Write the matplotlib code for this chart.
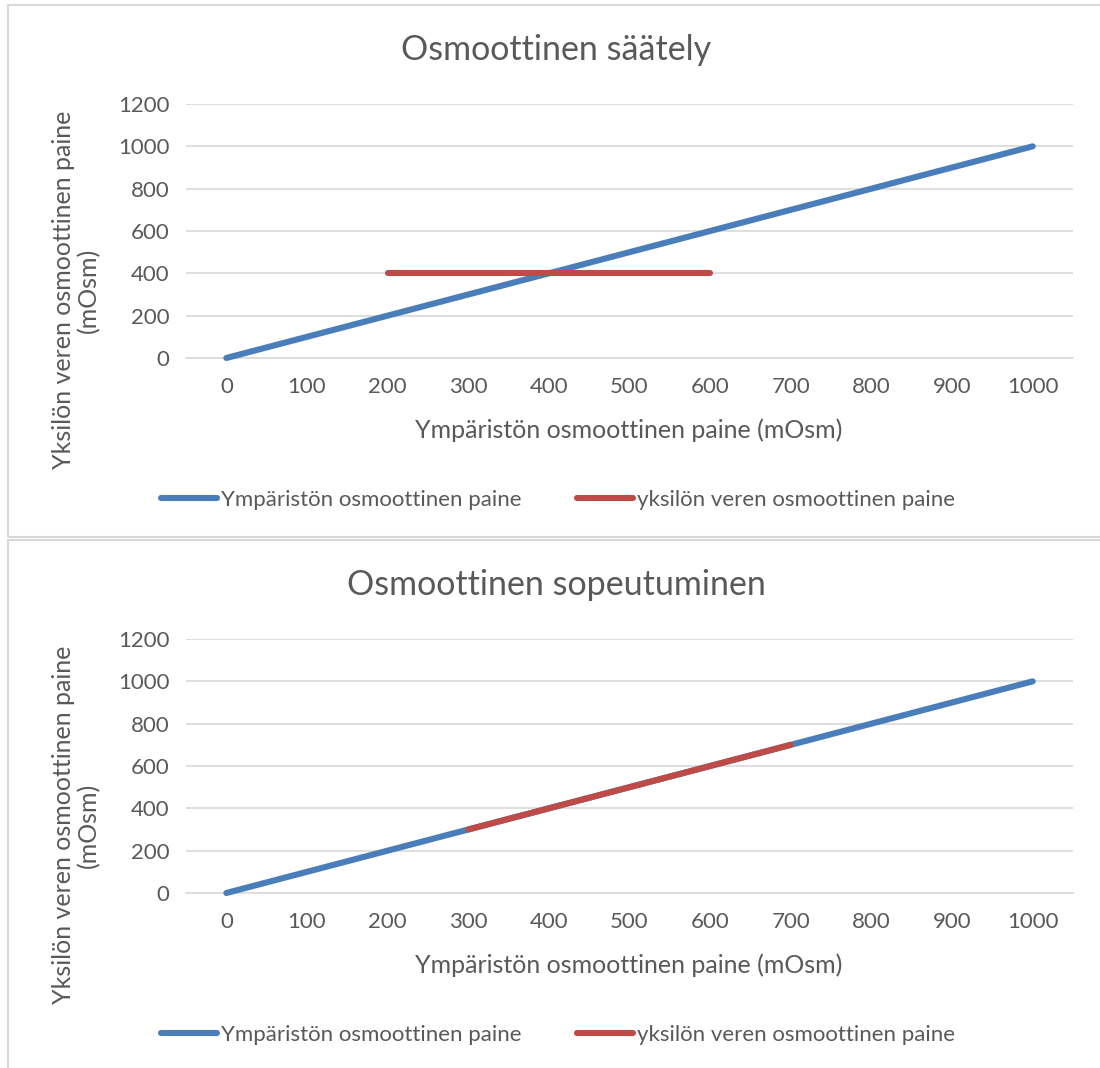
import matplotlib
matplotlib.use("Agg")
import matplotlib.pyplot as plt
from matplotlib.patches import Rectangle

plt.rcParams['font.family'] = ['Lato', 'DejaVu Sans']

# data
env_x = [0, 1000]
env_y = [0, 1000]
reg_x = [200, 600]          # osmoottinen säätely
reg_y = [400, 400]
conf_x = [300, 700]         # osmoottinen sopeutuminen
conf_y = [300, 700]

titles = ["Osmoottinen säätely", "Osmoottinen sopeutuminen"]
series_names = ["Ympäristön osmoottinen paine", "yksilön veren osmoottinen paine"]
xlabel = "Ympäristön osmoottinen paine (mOsm)"
ylabel = "Yksilön veren osmoottinen paine\n(mOsm)"
x_ticks = [0, 100, 200, 300, 400, 500, 600, 700, 800, 900, 1000]
y_ticks = [0, 200, 400, 600, 800, 1000, 1200]

BLUE = '#4a7ebb'
RED = '#be4b48'
GRID = '#d9d9d9'
TXT = '#595959'

W, H = 1100, 1068
fig = plt.figure(figsize=(W / 100, H / 100), dpi=100)


def px_axes(left, top, right, bottom):
    return fig.add_axes([left / W, 1 - bottom / H, (right - left) / W, (bottom - top) / H])


def panel(offset, red_x, red_y, title):
    # chart border
    fig.patches.append(Rectangle((8 / W, 1 - (offset + 537) / H), 1.2, 532 / H,
                                 transform=fig.transFigure, fill=False,
                                 edgecolor=GRID, lw=1.5))
    ax = px_axes(186, offset + 104, 1073, offset + 358)
    ax.plot(env_x, env_y, color=BLUE, lw=4.4, solid_capstyle='round',
            label=series_names[0], zorder=3)
    ax.plot(red_x, red_y, color=RED, lw=4.4, solid_capstyle='round',
            label=series_names[1], zorder=4)
    ax.set_xlim(-50, 1050)
    ax.set_ylim(0, 1200)
    ax.set_xticks(x_ticks)
    ax.set_yticks(y_ticks)
    ax.grid(axis='y', color=GRID, lw=1.2)
    ax.set_axisbelow(True)
    for s in ['top', 'right', 'left']:
        ax.spines[s].set_visible(False)
    ax.spines['bottom'].set_color(GRID)
    ax.spines['bottom'].set_linewidth(1.2)
    ax.tick_params(length=0, labelsize=16, colors=TXT, pad=12)
    ax.tick_params(axis='x', pad=14)
    for ln in ax.lines:
        ln.set_clip_on(False)

    fig.text(556 / W, 1 - (offset + 50) / H, title, ha='center', va='center',
             fontsize=24.5, color=TXT)
    fig.text(629 / W, 1 - (offset + 430) / H, xlabel, ha='center', va='center',
             fontsize=18, color=TXT)
    fig.text(76 / W, 1 - (offset + 290) / H, ylabel, ha='center', va='center',
             rotation=90, fontsize=18, color=TXT, linespacing=1.1)
    fig.legend(handles=ax.lines, labels=series_names, loc='center',
               bbox_to_anchor=(558 / W, 1 - (offset + 500) / H), ncol=2,
               frameon=False, fontsize=16, handlelength=2.5, handletextpad=0.2,
               columnspacing=2.5, labelcolor=TXT)
    return ax


panel(0, reg_x, reg_y, titles[0])
panel(535, conf_x, conf_y, titles[1])

fig.savefig("out.png", dpi=100, facecolor='white')
